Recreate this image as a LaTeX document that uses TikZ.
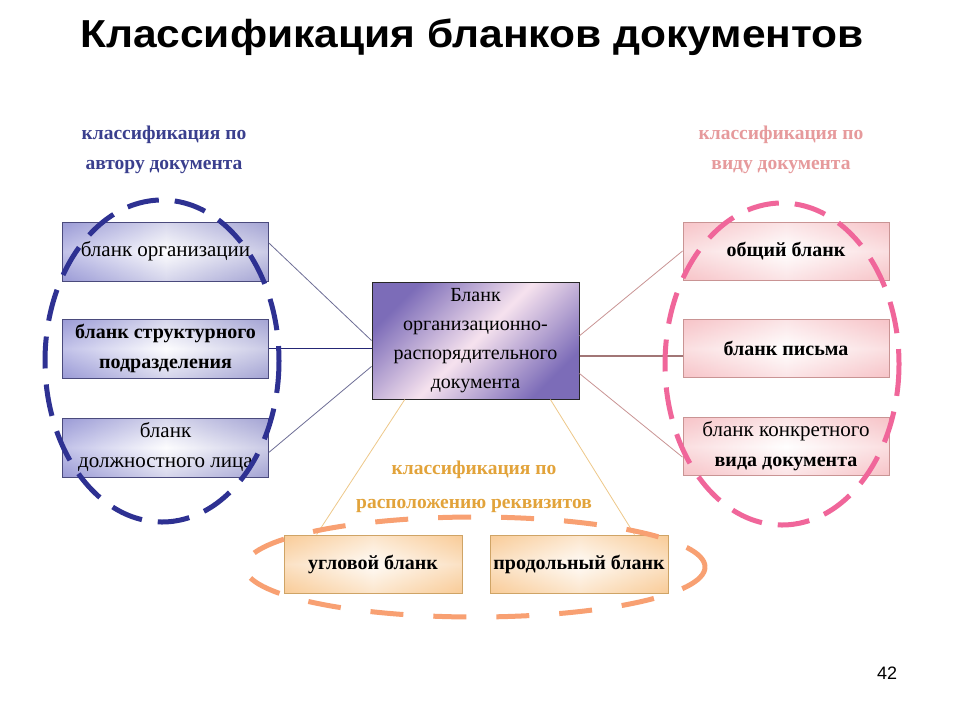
\documentclass[tikz,border=0pt]{standalone}
\usepackage{fontspec}
\setmainfont{Liberation Serif}
\newfontfamily\titlefont[FakeStretch=1.09]{Liberation Sans}
\newfontfamily\numfont{Liberation Sans}
\newcommand\boldbox{\bfseries\fontsize{20}{30}\selectfont}
\usetikzlibrary{calc}
\definecolor{navy}{HTML}{2E3192}
\definecolor{navylab}{HTML}{3A3F8E}
\definecolor{pinkel}{HTML}{F0669A}
\definecolor{pinklab}{HTML}{E69A9C}
\definecolor{orangeel}{HTML}{F8A072}
\definecolor{goldlab}{HTML}{E2A33A}
\definecolor{lavedge}{HTML}{A4A4D4}
\definecolor{lavborder}{HTML}{4A4A7C}
\definecolor{pinkedge}{HTML}{F7C4C8}
\definecolor{pinkborder}{HTML}{C99494}
\definecolor{peachedge}{HTML}{F9CC98}
\definecolor{peachborder}{HTML}{CFA466}
\definecolor{cpurple}{HTML}{7C6CB8}
\definecolor{cpink}{HTML}{F6E2EE}
\tikzset{
  boxtext/.style={font=\fontsize{21}{30}\selectfont, align=center, text=black, inner sep=0pt},
  lavbox/.style={boxtext, draw=lavborder, line width=1pt, minimum width=206pt, minimum height=59pt,
    top color=lavedge, bottom color=lavedge, middle color=white!95!lavedge,
    path picture={\shade[left color=lavedge!90!blue, right color=lavedge, middle color=white, opacity=0.55]
      (path picture bounding box.south west) rectangle (path picture bounding box.north east);}},
  pinkbox/.style={boxtext, draw=pinkborder, line width=1pt, minimum width=206pt, minimum height=58pt,
    top color=pinkedge, bottom color=pinkedge, middle color=white,
    path picture={\shade[left color=pinkedge, right color=pinkedge, middle color=white, opacity=0.55]
      (path picture bounding box.south west) rectangle (path picture bounding box.north east);}},
  peachbox/.style={boxtext, draw=peachborder, line width=1pt, minimum width=178pt, minimum height=58pt,
    top color=peachedge, bottom color=peachedge, middle color=white!85!peachedge,
    path picture={\shade[left color=peachedge, right color=peachedge, middle color=white, opacity=0.5]
      (path picture bounding box.south west) rectangle (path picture bounding box.north east);}},
  centerbox/.style={boxtext, font=\fontsize{20}{29}\selectfont, draw=black!85, line width=1pt, minimum width=207pt, minimum height=117pt,
    left color=cpurple, right color=cpurple, middle color=cpink, shading angle=45},
  grouplabel/.style={font=\bfseries\fontsize{19.5}{30}\selectfont, align=center, inner sep=0pt},
  dashring/.style={line width=5pt, dash pattern=on 32pt off 16pt},
  leftlink/.style={draw=lavborder!80, line width=0.8pt},
  rightlink/.style={draw=pinkborder, line width=0.8pt},
  bottomlink/.style={draw=goldlab!60, line width=0.8pt},
}
\begin{document}
\begin{tikzpicture}[x=1pt,y=-1pt]
\useasboundingbox[fill=white] (0,0) rectangle (960,720);

\node[font=\titlefont\bfseries\fontsize{39}{42}\selectfont, anchor=base] (title) at (472,47) {Классификация бланков документов};
\node[font=\numfont\fontsize{18}{20}\selectfont, anchor=base] (pagenum) at (887,679) {42};

% group labels
\node[grouplabel, text=navylab] (lablL) at (164,150) {классификация по\\автору документа};
\node[grouplabel, text=pinklab] (lablR) at (781,150) {классификация по\\виду документа};
\node[grouplabel, text=goldlab, font=\bfseries\fontsize{19.5}{34}\selectfont] (lablB) at (474,487) {классификация по\\расположению реквизитов};

% boxes
\node[lavbox] (L1) at (165.5,251.5) {бланк организации};
\node[lavbox] (L2) at (165.5,348.5) {\boldbox бланк структурного\\\boldbox подразделения};
\node[lavbox] (L3) at (165.5,447.5) {бланк\\должностного лица};

\node[centerbox] (C) at (475.5,340.5) {Бланк\\организационно-\\распорядительного\\документа};

\node[pinkbox] (R1) at (786,251) {\boldbox общий бланк};
\node[pinkbox] (R2) at (786,348.5) {\boldbox бланк письма};
\node[pinkbox] (R3) at (786,446.5) {бланк конкретного\\\boldbox вида документа};

\node[peachbox] (B1) at (373,564) {\boldbox угловой бланк};
\node[peachbox] (B2) at (579,564) {\boldbox продольный бланк};

% connectors
\draw[leftlink] ($(L1.north east)!0.36!(L1.south east)$) -- (C.west);
\draw[leftlink, draw=navy!80!black, line width=1.4pt] (L2.east) -- (L2.east -| C.west);
\draw[leftlink] ($(L3.north east)!0.58!(L3.south east)$) -- ($(C.north west)!0.72!(C.south west)$);

\draw[rightlink] ($(C.north east)!0.46!(C.south east)$) -- (R1.west);
\coordinate (cR2) at ($(C.north east)!0.63!(C.south east)$);
\draw[rightlink, draw=pinkborder!80!black, line width=1.4pt] (cR2) -- (cR2 -| R2.west);
\draw[rightlink] ($(C.north east)!0.78!(C.south east)$) -- ($(R3.north west)!0.68!(R3.south west)$);

\draw[bottomlink] ($(C.south west)!0.16!(C.south east)$) -- ($(B1.north west)!0.185!(B1.north east)$);
\draw[bottomlink] ($(C.south west)!0.86!(C.south east)$) -- ($(B2.north west)!0.81!(B2.north east)$);

% dashed rings
\draw[dashring, navy] (162,361) ellipse [x radius=117, y radius=161];
\draw[dashring, pinkel] (782,364) ellipse [x radius=117, y radius=161];
\draw[dashring, orangeel, dash pattern=on 33pt off 30pt] (475,567) ellipse [x radius=230, y radius=50];
\end{tikzpicture}
\end{document}
